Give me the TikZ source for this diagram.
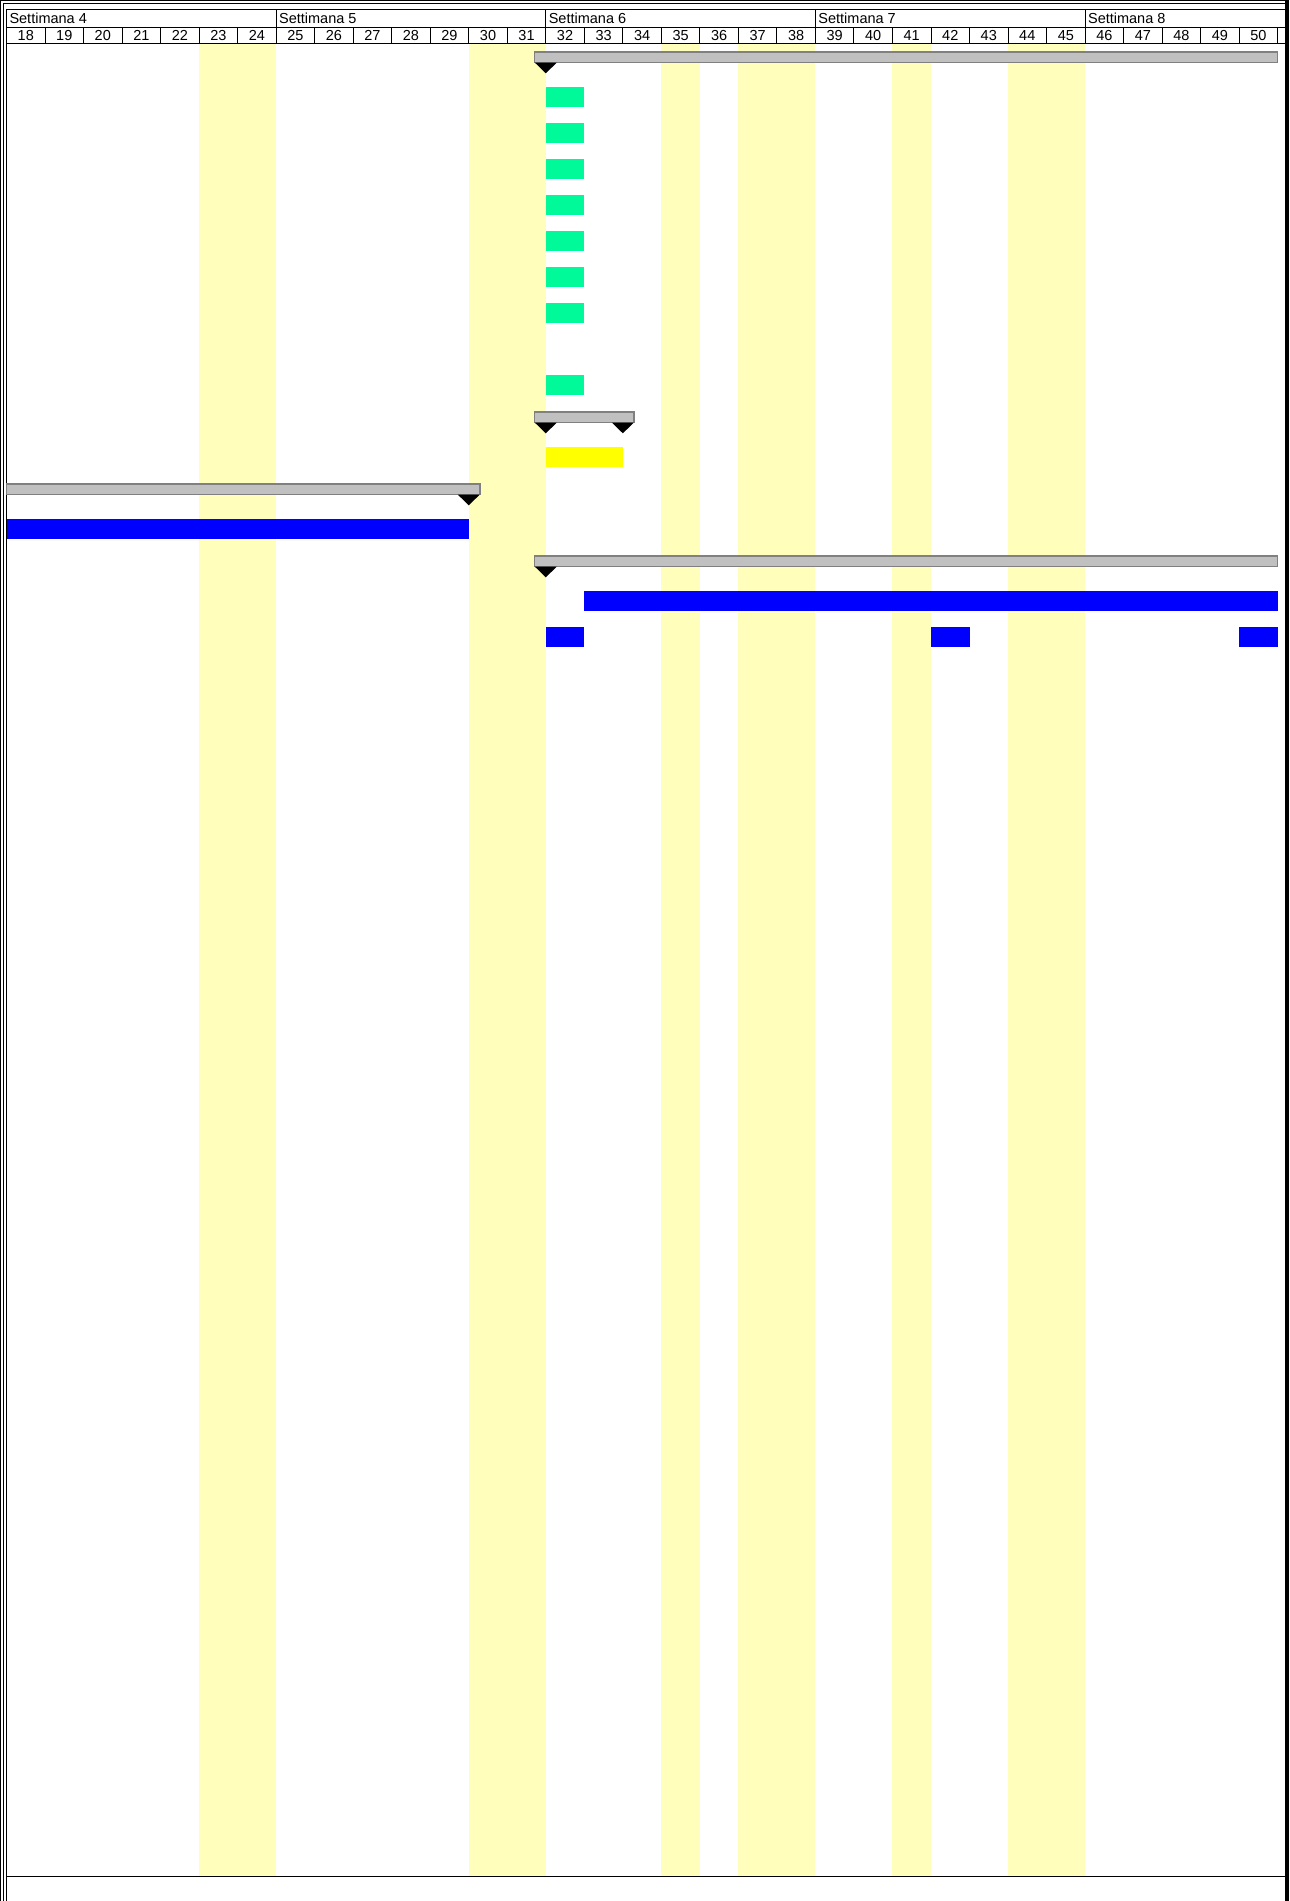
\documentclass[tikz,border=0pt]{standalone}
\usepackage{fontspec}
\setmainfont{Liberation Sans}
\definecolor{festivo}{HTML}{FFFFBB}
\definecolor{verde}{HTML}{00FA9A}
\definecolor{giallo}{HTML}{FFFF00}
\definecolor{blu}{HTML}{0000FF}
\definecolor{riepgrigio}{HTML}{C0C0C0}
\definecolor{riepbordo}{HTML}{808080}
\begin{document}
\begin{tikzpicture}[x=38.52pt,y=-36pt,line join=miter,font=\fontsize{14.5}{16}\selectfont,
		riepilogo/.style={fill=riepgrigio,draw=riepbordo,line width=1.2pt},
		attivita/.style={fill=#1}]
			\useasboundingbox (-0.169,-1.222) rectangle (33.295,51.583);
			\draw[line width=1pt] (0,50.897) -- (33.209,50.897);
			\foreach \a/\b in {5/7,12/14,17/18,19/21,23/24,26/28}
			\fill[festivo] (\a,0) rectangle (\b,50.897);
			\draw[line width=1pt] (0,-0.964) -- (33.209,-0.964) (0,-0.472) -- (33.209,-0.472) (0,0) -- (33.209,0);
			\foreach \w [count=\i from 0] in {4,...,8} {
				\draw[line width=1pt] ({7*\i},-0.964) -- ({7*\i},-0.472);
				\node[anchor=base west,inner sep=0pt,xshift=2.8pt] (w\w) at ({7*\i},-0.556) {Settimana \w};
			}
			\foreach \d [count=\i from 0] in {18,...,50} {
				\draw[line width=1pt] (\i,-0.472) -- (\i,0);
				\node[anchor=base,inner sep=0pt] (d\d) at ({\i+0.5},-0.092) {\d};
			}
			\draw[line width=1pt] (33,-0.472) -- (33,0);
			\draw[line width=1.2pt] (-0.148,51.8) -- (-0.148,-1.2) -- (33.243,-1.2);
			\draw[line width=1.2pt] (-0.083,51.8) -- (-0.083,-1.131) -- (33.243,-1.131);
			\draw[line width=4pt] (33.243,-1.23) -- (33.243,51.8);
			\draw[line width=1.2pt] (0,-0.964) -- (0,51.8);
			\foreach \r/\a/\b in {0/13.71/33,10/13.71/16.29,12/0/12.29,14/13.71/33}
			\draw[riepilogo,shift={(0,\r)}] (\a,0.222) rectangle (\b,0.519);
			\foreach \r/\m in {0/14,10/14,10/16,12/12,14/14}
			\fill[shift={(0,\r)}] ({\m-0.283},0.519) -- ({\m+0.283},0.519) -- (\m,0.814) -- cycle;
			\foreach \r in {1,2,3,4,5,6,7,9}
			\fill[attivita=verde,shift={(0,\r)}] (14,0.186) rectangle (15,0.742);
			\fill[attivita=giallo,shift={(0,11)}] (14,0.186) rectangle (16,0.742);
			\foreach \r/\a/\b in {13/0/12,15/15/33,16/14/15,16/24/25,16/32/33}
			\fill[attivita=blu,shift={(0,\r)}] (\a,0.186) rectangle (\b,0.742);
		\end{tikzpicture}
\end{document}
